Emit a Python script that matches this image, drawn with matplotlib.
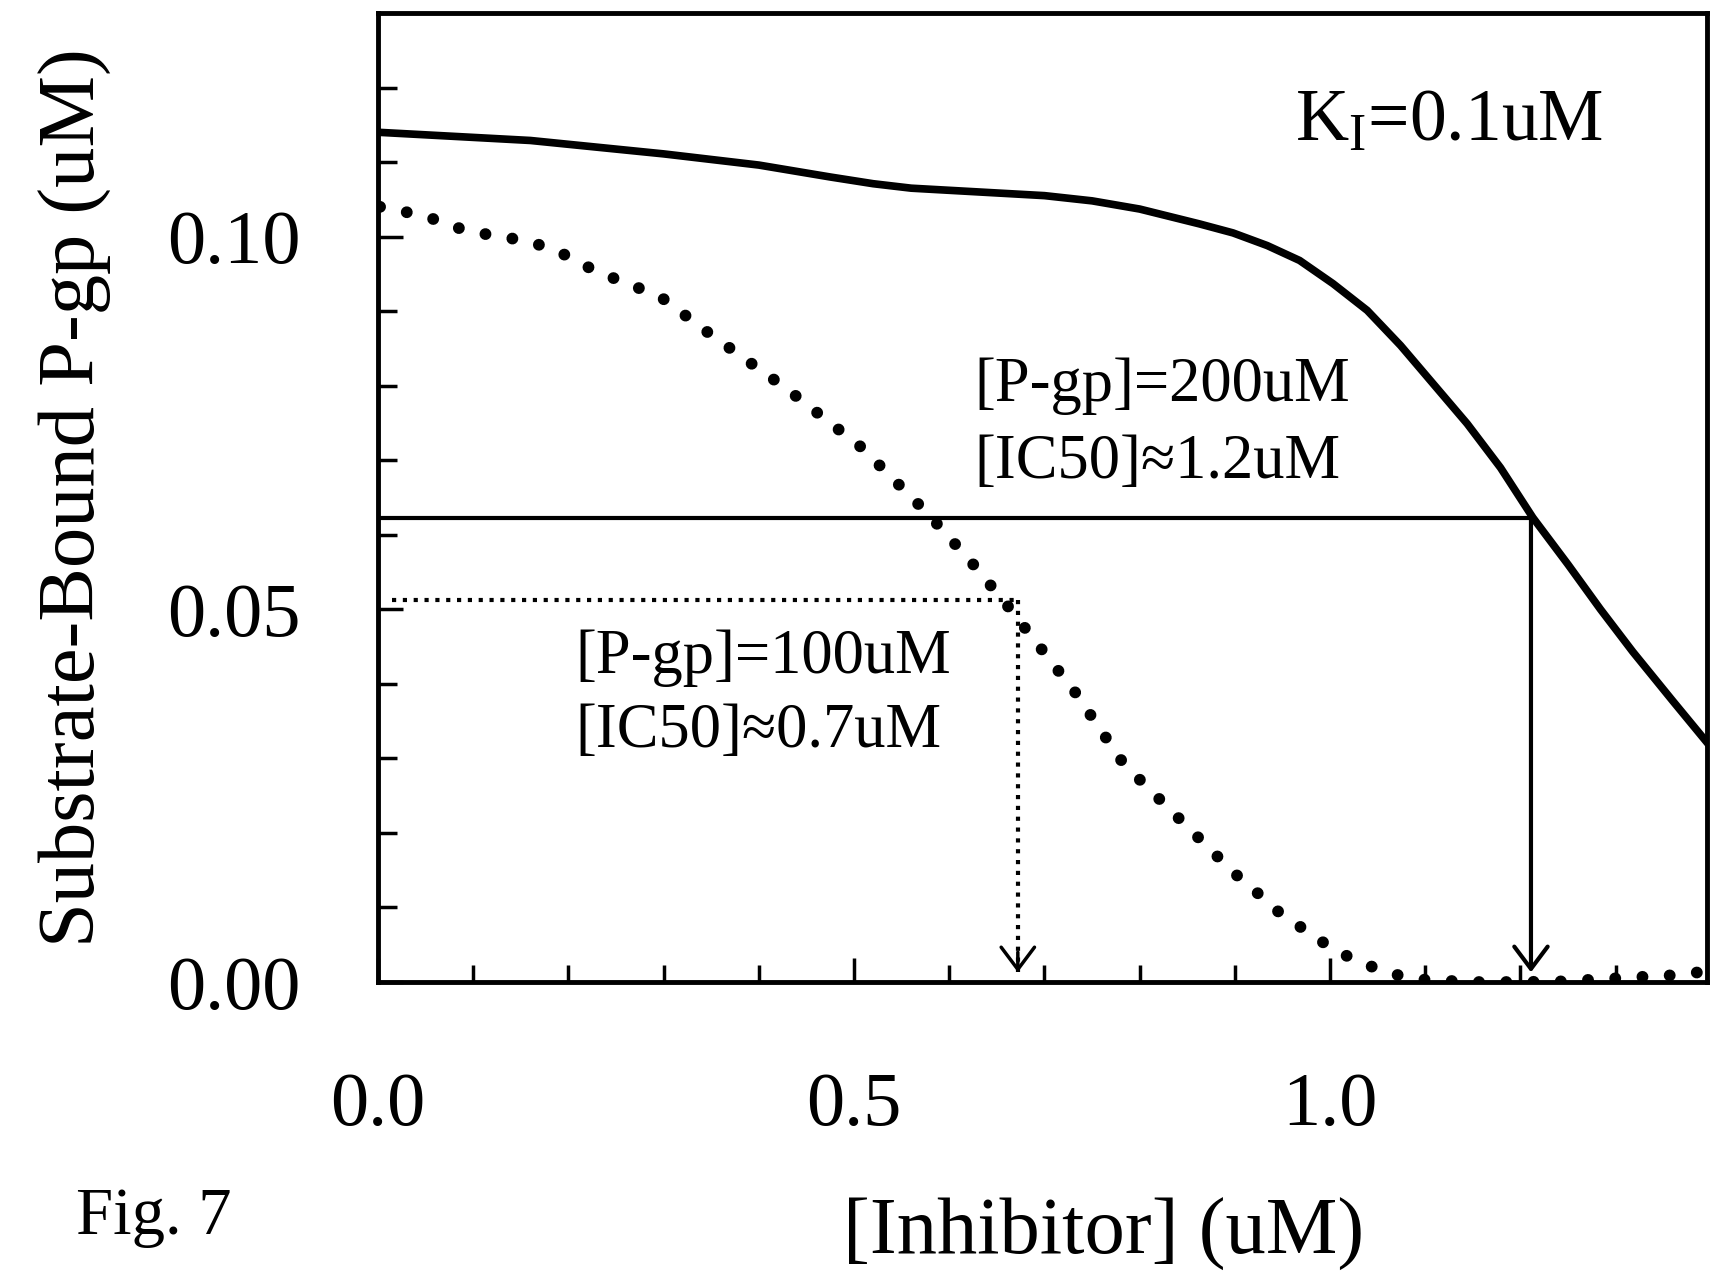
import matplotlib
matplotlib.use("Agg")
import matplotlib.pyplot as plt

# =========================================================
# DATA
# =========================================================

# [P-gp] = 200 uM  (solid curve)
pgp200_x = [0.000, 0.160, 0.300, 0.400, 0.475, 0.520, 0.560, 0.630, 0.700,
            0.750, 0.800, 0.863, 0.898, 0.934, 0.968, 1.003, 1.039, 1.074,
            1.108, 1.144, 1.179, 1.213, 1.250, 1.284, 1.318, 1.360, 1.400]
pgp200_y = [0.1140, 0.1129, 0.1111, 0.1096, 0.1080, 0.1071, 0.1065, 0.1060,
            0.1055, 0.1048, 0.1037, 0.1017, 0.1005, 0.0988, 0.0968, 0.0937,
            0.0901, 0.0854, 0.0803, 0.0749, 0.0690, 0.0623, 0.0560, 0.0500,
            0.0443, 0.0377, 0.0315]

# [P-gp] = 100 uM  (dotted curve)
pgp100_x = [0.002, 0.026, 0.055, 0.083, 0.110, 0.139, 0.167, 0.194, 0.219,
            0.246, 0.272, 0.298, 0.348, 0.428, 0.508, 0.577, 0.624, 0.661,
            0.696, 0.732, 0.783, 0.882, 0.903, 0.925, 0.946, 0.971, 0.994,
            1.019, 1.045, 1.072, 1.100, 1.150, 1.200, 1.250, 1.273, 1.329,
            1.359, 1.387, 1.400]
pgp100_y = [0.1040, 0.1034, 0.1025, 0.1012, 0.1004, 0.0998, 0.0990, 0.0977,
            0.0960, 0.0945, 0.0932, 0.0918, 0.0870, 0.0797, 0.0717, 0.0629,
            0.0562, 0.0505, 0.0448, 0.0389, 0.0293, 0.0168, 0.0142, 0.0118,
            0.0094, 0.0072, 0.0052, 0.0034, 0.0020, 0.0009, 0.0003, 0.0000,
            0.0000, 0.0001, 0.0003, 0.0007, 0.0009, 0.0013, 0.0014]

# IC50 guide lines: (x of IC50, half-level)
ic50_200 = (1.211, 0.0622)
ic50_100 = (0.672, 0.0513)

x_major = [0.0, 0.5, 1.0]
x_minor = [0.1, 0.2, 0.3, 0.4, 0.6, 0.7, 0.8, 0.9, 1.1, 1.2, 1.3]
y_major = [0.00, 0.05, 0.10]
y_minor = [0.01, 0.02, 0.03, 0.04, 0.06, 0.07, 0.08, 0.09, 0.11, 0.12]

# =========================================================
# STYLE
# =========================================================

plt.rcParams["font.family"] = ["Liberation Serif", "DejaVu Serif"]
plt.rcParams["mathtext.fontset"] = "custom"
plt.rcParams["mathtext.rm"] = "Liberation Serif"
plt.rcParams["mathtext.it"] = "Liberation Serif:italic"

fig = plt.figure(figsize=(17.1, 12.76), dpi=100)
ax = fig.add_axes([0.2211, 0.2304, 0.7772, 0.7594])

# =========================================================
# CURVES
# =========================================================

ax.plot(pgp200_x, pgp200_y, color="black", lw=5.5, solid_capstyle="round",
        solid_joinstyle="round", zorder=3)

ax.plot(pgp100_x, pgp100_y, color="black", lw=8.5,
        linestyle=(0, (0.01, 2.3)), dash_capstyle="round", zorder=3)

# =========================================================
# IC50 GUIDES
# =========================================================

tip = 0.0013
arrow_head = "->,head_length=0.8,head_width=0.6"

# solid (200 uM)
ax.plot([0, ic50_200[0]], [ic50_200[1], ic50_200[1]], color="black", lw=3)
ax.annotate("", xy=(ic50_200[0], tip), xytext=ic50_200,
            arrowprops=dict(arrowstyle=arrow_head, lw=3, color="black",
                            shrinkA=0, shrinkB=0, mutation_scale=20))

# dotted (100 uM)
ax.plot([0.015, ic50_100[0]], [ic50_100[1], ic50_100[1]], color="black",
        lw=3, linestyle=(0, (1, 1.6)))
ax.plot([ic50_100[0], ic50_100[0]], [ic50_100[1], tip], color="black",
        lw=3, linestyle=(0, (1, 1.6)))
ax.annotate("", xy=(ic50_100[0], tip), xytext=(ic50_100[0], 0.004),
            arrowprops=dict(arrowstyle=arrow_head, lw=2.5, color="black",
                            shrinkA=0, shrinkB=0, mutation_scale=20))

# =========================================================
# TEXT
# =========================================================

ax.text(0.963, 0.1129, r"K$_\mathrm{I}$=0.1uM", fontsize=53, va="baseline")

ax.text(0.626, 0.0780, "[P-gp]=200uM", fontsize=45, va="baseline")
ax.text(0.626, 0.0676, "[IC50]≈1.2uM", fontsize=45, va="baseline")

ax.text(0.207, 0.0414, "[P-gp]=100uM", fontsize=45, va="baseline")
ax.text(0.207, 0.0315, "[IC50]≈0.7uM", fontsize=45, va="baseline")

fig.text(0.0444, 0.0329, "Fig. 7", fontsize=48, va="baseline")

# =========================================================
# AXES
# =========================================================

ax.set_xlim(0, 1.396)
ax.set_ylim(0, 0.13)

ax.set_xticks(x_major)
ax.set_xticklabels([f"{v:.1f}" for v in x_major])
ax.set_xticks(x_minor, minor=True)
ax.set_yticks(y_major)
ax.set_yticklabels([f"{v:.2f}" for v in y_major])
ax.set_yticks(y_minor, minor=True)

ax.tick_params(axis="both", which="both", direction="in", width=2.5,
               top=False, right=False)
ax.tick_params(axis="x", which="major", length=17, pad=65, labelsize=55)
ax.tick_params(axis="x", which="minor", length=12)
ax.tick_params(axis="y", which="major", length=18, pad=56, labelsize=55)
ax.tick_params(axis="y", which="minor", length=14)

for side in ax.spines.values():
    side.set_linewidth(3.5)

ax.set_ylabel("Substrate-Bound P-gp (uM)", fontsize=58)
ax.yaxis.set_label_coords(-0.200, 0.5)

xl = ax.set_xlabel("[Inhibitor] (uM)", fontsize=58)
xl.set_va("baseline")
ax.xaxis.set_label_coords(0.546, -0.2807)

fig.savefig("out.png", dpi=100)
